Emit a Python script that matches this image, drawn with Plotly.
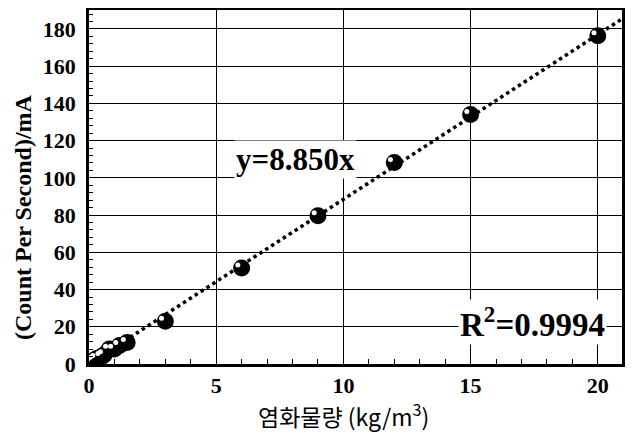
import plotly.graph_objects as go

# data
chloride = [0.1, 0.2, 0.3, 0.5, 0.6, 0.8, 1.0, 1.2, 1.5, 3.0, 6.0, 9.0, 12.0, 15.0, 20.0]
cps = [1.0, 2.0, 3.0, 4.0, 5.0, 8.0, 8.0, 10.0, 11.6, 23.0, 51.6, 79.7, 108.3, 134.0, 176.4]
SLOPE = 8.850
R2 = 0.9994
fit_x = [0.0, 22.0]
fit_y = [SLOPE * v for v in fit_x]

x_ticks = [0, 5, 10, 15, 20]
y_ticks = [0, 20, 40, 60, 80, 100, 120, 140, 160, 180]

serif = "Liberation Serif"

fig = go.Figure()
fig.add_trace(go.Scatter(
    x=fit_x, y=fit_y, mode="lines",
    line=dict(color="black", width=3.5, dash="dot"),
    hoverinfo="skip", showlegend=False))
fig.add_trace(go.Scatter(
    x=chloride, y=cps, mode="markers",
    marker=dict(color="black", size=17, line=dict(width=0)),
    showlegend=False))
# small specular highlight on each ball
fig.add_trace(go.Scatter(
    x=[v - 0.15 for v in chloride], y=[v + 1.6 for v in cps], mode="markers",
    marker=dict(color="white", size=5, line=dict(width=0)),
    hoverinfo="skip", showlegend=False))

fig.add_annotation(x=8.1, y=110, text="<b>y=8.850x</b>", showarrow=False,
                   font=dict(family=serif, size=31, color="black"),
                   bgcolor="white", xanchor="center", yanchor="middle")
fig.add_annotation(x=17.45, y=22.5, text="<b>R<sup>2</sup>=0.9994</b>", showarrow=False,
                   font=dict(family=serif, size=33, color="black"),
                   bgcolor="white", xanchor="center", yanchor="middle")
# axis titles
fig.add_annotation(x=10.0, y=0, xref="x", yref="paper", yshift=-31,
                   text="염화물량 (kg/m<sup>3</sup>)", showarrow=False,
                   font=dict(family="Noto Sans CJK KR", size=23, color="black"),
                   xanchor="center", yanchor="top")
fig.add_annotation(x=0, y=79, xref="paper", yref="y", xshift=-66,
                   text="<b>(Count Per Second)/mA</b>", showarrow=False, textangle=-90,
                   font=dict(family=serif, size=24, color="black"),
                   xanchor="center", yanchor="middle")

fig.update_layout(
    width=625, height=426,
    margin=dict(l=81, r=11, t=2, b=70),
    paper_bgcolor="white", plot_bgcolor="white",
    xaxis=dict(
        range=[0, 20.95], tickvals=x_ticks, ticktext=[str(v) for v in x_ticks],
        showgrid=True, gridcolor="black", gridwidth=1,
        showline=True, linecolor="black", linewidth=2.5, mirror=True,
        ticks="inside", ticklen=8, tickcolor="black", tickwidth=1,
        minor=dict(dtick=1, ticks="inside", ticklen=5, tickcolor="black", showgrid=False),
        tickfont=dict(family=serif, size=22, color="black", weight="bold"),
        zeroline=False, automargin=False,
    ),
    yaxis=dict(
        range=[0, 190.2], tickvals=y_ticks, ticktext=[str(v) for v in y_ticks],
        showgrid=True, gridcolor="black", gridwidth=1,
        showline=True, linecolor="black", linewidth=2.5, mirror=True,
        ticks="inside", ticklen=6, tickcolor="black", tickwidth=1,
        minor=dict(dtick=4, ticks="inside", ticklen=4, tickcolor="black", showgrid=False),
        tickfont=dict(family=serif, size=22, color="black", weight="bold"),
        ticklabelstandoff=6,
        zeroline=False, automargin=False,
    ),
)

fig.write_html("out.html")
